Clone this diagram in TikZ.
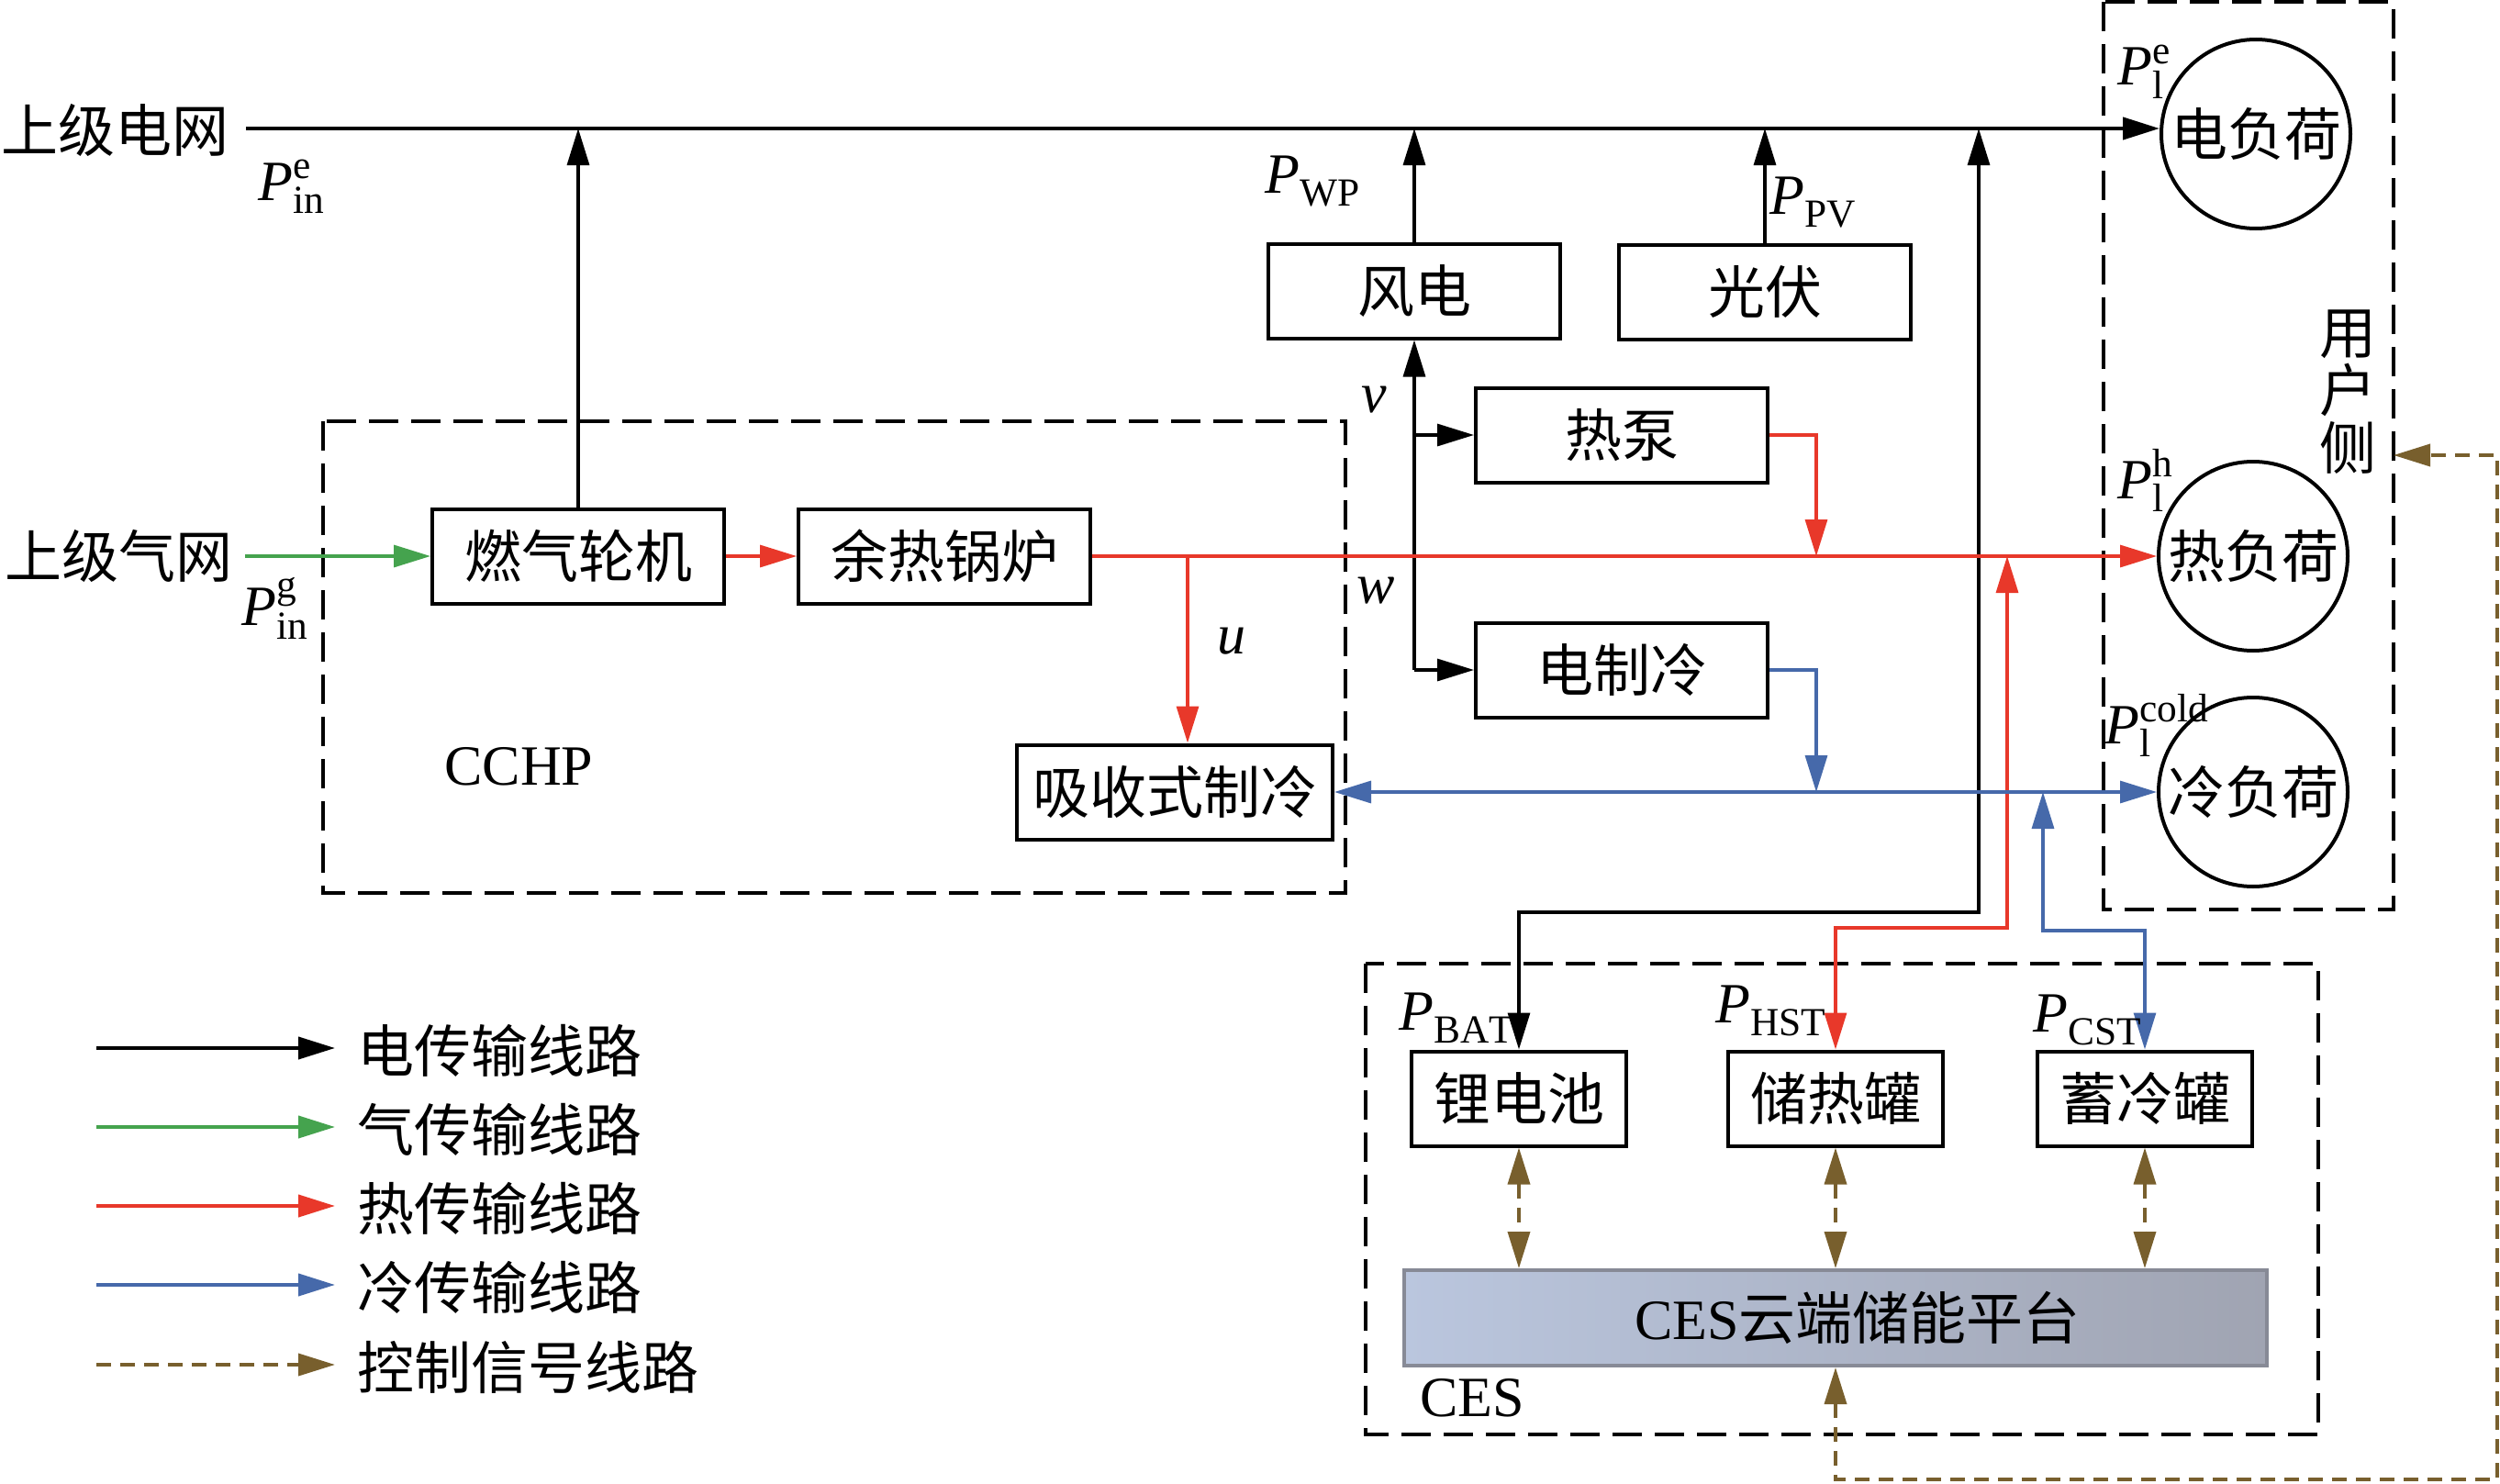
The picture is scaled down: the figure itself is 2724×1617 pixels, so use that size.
\documentclass[tikz,border=0pt]{standalone}
\usepackage{fontspec}
\setmainfont{Liberation Serif}
\newfontfamily\cjk{Noto Sans CJK SC}
\usetikzlibrary{arrows.meta}

\definecolor{hotred}{RGB}{232,56,42}
\definecolor{gasgreen}{RGB}{69,163,78}
\definecolor{coldblue}{RGB}{70,105,170}
\definecolor{sigbrown}{RGB}{120,95,45}
\definecolor{cesleft}{RGB}{186,198,222}
\definecolor{cesright}{RGB}{160,164,178}
\definecolor{cesedge}{RGB}{135,138,150}

\newcommand{\zhfont}{\fontsize{15.5}{18}\selectfont\cjk}
\newcommand{\enfont}{\fontsize{15.5}{18}\selectfont}
\newcommand{\pvar}[2]{$\mbox{\itshape P}^{\mathrm{#1}}_{\mathrm{#2}}$}

\tikzset{every picture/.style={line width=0.75pt}}
\tikzset{
  >={Triangle[length=10pt,width=6pt]},
  unit/.style={draw, line width=1pt, minimum width=79.5pt, minimum height=25.75pt, inner sep=0pt, font=\zhfont},
  load/.style={circle, draw, line width=1pt, minimum size=51.5pt, inner sep=0pt, font=\zhfont},
  platform/.style={draw=cesedge, line width=1pt, left color=cesleft, right color=cesright, minimum width=235pt, minimum height=26pt, inner sep=0pt, font=\enfont},
  txt/.style={inner sep=0pt, font=\zhfont},
  ptxt/.style={inner sep=0pt, font=\enfont},
  frame/.style={dash pattern=on 8pt off 3.5pt, line width=0.9pt},
  eflow/.style={draw=black, line width=0.8pt},
  gflow/.style={draw=gasgreen, line width=0.8pt},
  hflow/.style={draw=hotred, line width=0.8pt},
  cflow/.style={draw=coldblue, line width=0.8pt},
  ctrl/.style={draw=sigbrown, dash pattern=on 4pt off 2.5pt, line width=0.9pt}
}

\begin{document}
\begin{tikzpicture}[x=0.25pt,y=0.25pt,yscale=-1,xscale=1]
\useasboundingbox (0,0) rectangle (2724,1617);

%Shape: Dashed frames (CCHP, user side, CES)
\draw[frame] (352,459) rectangle (1466,973);
\draw[frame] (2292,2) rectangle (2608,991);
\draw[frame] (1488,1050) rectangle (2526,1563);

% Text Node
\node[txt, anchor=west] (grid) at (0,142) {上级电网};
% Text Node
\node[txt, anchor=west] (gas) at (4,606) {上级气网};

%Shape: Rectangle units
\node[unit] (gt) at (630,606) {燃气轮机};
\node[unit] (hrb) at (1029,606) {余热锅炉};
\node[unit, minimum width=86pt] (ac) at (1280,863) {吸收式制冷};
\node[unit] (wind) at (1541,317) {风电};
\node[unit] (pv) at (1923,318) {光伏};
\node[unit] (hp) at (1767,474) {热泵};
\node[unit] (ec) at (1767,730) {电制冷};
\node[unit, minimum width=58.5pt] (bat) at (1655,1197) {锂电池};
\node[unit, minimum width=58.5pt] (hst) at (2000,1197) {储热罐};
\node[unit, minimum width=58.5pt] (cst) at (2337,1197) {蓄冷罐};
\node[platform] (ces) at (2000,1436) {\hspace*{12pt}CES{\cjk 云端储能平台}};

%Shape: Circle loads
\node[load] (eload) at (2458,146) {电负荷};
\node[load] (hload) at (2455,606) {热负荷};
\node[load] (cload) at (2455,863) {冷负荷};

% Text Node
\node[txt, align=center, font=\fontsize{15.5}{15.7}\selectfont\cjk] (user) at (2558,427) {用\\户\\侧};

%Junctions
\coordinate (gridS) at (268,140);
\coordinate (uj) at (1294,606);
\coordinate (vj) at (1541,730);
\coordinate (hpj) at (1979,606);
\coordinate (ecj) at (1979,863);
\coordinate (batc) at (2156,994);
\coordinate (hstc) at (2187,1011);
\coordinate (cstc) at (2226,1014);
\coordinate (loopc) at (2721,1612);
\coordinate (userE) at (2608,496);

%Straight Lines: electricity
\draw[eflow, line width=1.1pt, ->] (gridS) -- (gridS -| eload.west);
\draw[eflow, ->] (gt.north) -- (gt.north |- gridS);
\draw[eflow, ->] (wind.north) -- (wind.north |- gridS);
\draw[eflow, ->] (pv.north) -- (pv.north |- gridS);
\draw[eflow, <->] (bat.north) |- (batc) -- (batc |- gridS);
\draw[eflow, ->] (vj) -- (wind.south);
\draw[eflow, ->] (vj |- hp) -- (hp.west);
\draw[eflow, ->] (vj) -- (ec.west);

%Straight Lines: gas
\draw[gflow, ->] ([xshift=3pt]gas.east) -- (gt.west);

%Straight Lines: heat
\draw[hflow, ->] (gt.east) -- (hrb.west);
\draw[hflow, ->] (hrb.east) -- (hload.west);
\draw[hflow, ->] (uj) -- (uj |- ac.north);
\draw[hflow, ->] (hp.east) -| (hpj);
\draw[hflow, <->] (hst.north) |- (hstc) -- (hstc |- hload.west);

%Straight Lines: cold
\draw[cflow, <->] (ac.east) -- (cload.west);
\draw[cflow, ->] (ec.east) -| (ecj);
\draw[cflow, <->] (cst.north) |- (cstc) -- (cstc |- cload.west);

%Straight Lines: control signals
\draw[ctrl, <->] (bat.south) -- (bat.south |- ces.north);
\draw[ctrl, <->] (hst.south) -- (hst.south |- ces.north);
\draw[ctrl, <->] (cst.south) -- (cst.south |- ces.north);
\draw[ctrl, <->] (ces.south) |- (loopc) |- (userE);

% Text Node
\node[ptxt, anchor=base west] (pine) at (280,218) {\pvar{e}{in}};
% Text Node
\node[ptxt, anchor=base west] (ping) at (262,681) {\pvar{g}{in}};
% Text Node
\node[ptxt, anchor=base west] (pwp) at (1377,210) {\pvar{}{WP}};
% Text Node
\node[ptxt, anchor=base west] (ppv) at (1927,233) {\pvar{}{PV}};
% Text Node
\node[ptxt, anchor=base west] (ple) at (2306,93) {\pvar{e}{l}};
% Text Node
\node[ptxt, anchor=base west] (plh) at (2306,543) {\pvar{h}{l}};
% Text Node
\node[ptxt, anchor=base west] (plc) at (2292,810) {\pvar{cold}{l}};
% Text Node
\node[ptxt, anchor=base west] (pbat) at (1523,1122) {\pvar{}{BAT}};
% Text Node
\node[ptxt, anchor=base west] (phst) at (1868,1114) {\pvar{}{HST}};
% Text Node
\node[ptxt, anchor=base west] (pcst) at (2214,1124) {\pvar{}{CST}};
% Text Node
\node[ptxt, anchor=base west] (vlbl) at (1482,449) {\textit{v}};
% Text Node
\node[ptxt, anchor=base west] (wlbl) at (1477,657) {\textit{w}};
% Text Node
\node[ptxt, anchor=base west] (ulbl) at (1325,712) {\textit{u}};
% Text Node
\node[ptxt, anchor=base west] (cchp) at (483,855) {CCHP};
% Text Node
\node[ptxt, anchor=base west] (cesl) at (1546,1543) {CES};

%Legend
\node[txt, anchor=west] (leg1) at (388,1145) {电传输线路};
\node[txt, anchor=west] (leg2) at (388,1231) {气传输线路};
\node[txt, anchor=west] (leg3) at (388,1317) {热传输线路};
\node[txt, anchor=west] (leg4) at (388,1403) {冷传输线路};
\node[txt, anchor=west] (leg5) at (388,1490) {控制信号线路};
\coordinate (lg1) at (105,1142); \coordinate (lg1e) at (365,1142);
\coordinate (lg2) at (105,1228); \coordinate (lg2e) at (365,1228);
\coordinate (lg3) at (105,1314); \coordinate (lg3e) at (365,1314);
\coordinate (lg4) at (105,1400); \coordinate (lg4e) at (365,1400);
\coordinate (lg5) at (105,1487); \coordinate (lg5e) at (365,1487);
\draw[eflow, line width=1pt, ->] (lg1) -- (lg1e);
\draw[gflow, line width=1pt, ->] (lg2) -- (lg2e);
\draw[hflow, line width=1pt, ->] (lg3) -- (lg3e);
\draw[cflow, line width=1pt, ->] (lg4) -- (lg4e);
\draw[ctrl, ->] (lg5) -- (lg5e);

\end{tikzpicture}
\end{document}
